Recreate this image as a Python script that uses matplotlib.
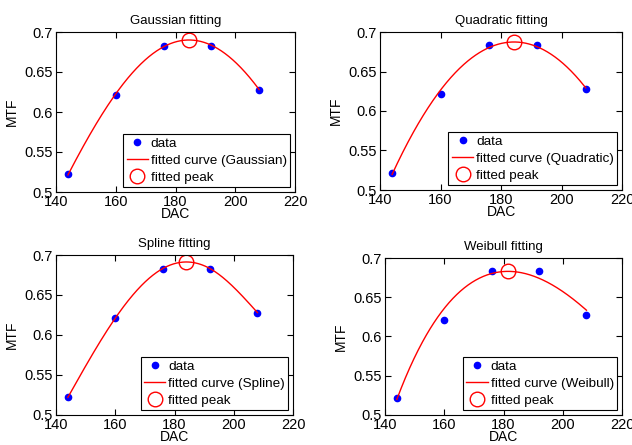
import numpy as np
import matplotlib.pyplot as plt

plt.rcParams['font.family'] = ['Liberation Sans', 'DejaVu Sans']

dac = np.array([144, 160, 176, 192, 208])
mtf = np.array([0.522, 0.621, 0.683, 0.683, 0.628])

titles = ['Gaussian fitting', 'Quadratic fitting', 'Spline fitting', 'Weibull fitting']
names = ['Gaussian', 'Quadratic', 'Spline', 'Weibull']
xticks = [140, 160, 180, 200, 220]
yticks = [0.5, 0.55, 0.6, 0.65, 0.7]
ytick_labels = ['0.5', '0.55', '0.6', '0.65', '0.7']

# weibull fit result: amplitude, location, scale, shape
weib_amp = 1.4355
weib_loc = 120.0
weib_scale = 113.55
weib_shape = 1.6


def fit_gaussian(x, y, xs):
    # log of a gaussian is a parabola; weight by y to stay close to a linear-space fit
    p = np.polyfit(x, np.log(y), 2, w=y)
    return np.exp(np.polyval(p, xs))


def fit_quadratic(x, y, xs):
    return np.polyval(np.polyfit(x, y, 2), xs)


def fit_spline(x, y, xs):
    # natural cubic spline
    n = len(x)
    h = np.diff(x).astype(float)
    A = np.zeros((n, n))
    r = np.zeros(n)
    A[0, 0] = A[-1, -1] = 1
    for i in range(1, n - 1):
        A[i, i - 1] = h[i - 1]
        A[i, i] = 2 * (h[i - 1] + h[i])
        A[i, i + 1] = h[i]
        r[i] = 6 * ((y[i + 1] - y[i]) / h[i] - (y[i] - y[i - 1]) / h[i - 1])
    m = np.linalg.solve(A, r)
    idx = np.clip(np.searchsorted(x, xs) - 1, 0, n - 2)
    x0, x1 = x[idx], x[idx + 1]
    hh = h[idx]
    return (m[idx] * (x1 - xs) ** 3 / (6 * hh) + m[idx + 1] * (xs - x0) ** 3 / (6 * hh)
            + (y[idx] / hh - m[idx] * hh / 6) * (x1 - xs)
            + (y[idx + 1] / hh - m[idx + 1] * hh / 6) * (xs - x0))


def fit_weibull(x, y, xs):
    u = (xs - weib_loc) / weib_scale
    return weib_amp * u ** (weib_shape - 1) * np.exp(-u ** weib_shape)


fits = [fit_gaussian, fit_quadratic, fit_spline, fit_weibull]

# axes boxes in figure pixels: left, bottom, right, top
boxes = [(56, 253, 295, 413), (380, 255, 622, 413), (56, 30, 293, 190), (385, 30, 622, 187)]

W, H = 632, 445
fig = plt.figure(figsize=(W / 100, H / 100), dpi=100)

xs = np.linspace(dac[0], dac[-1], 400)
for title, name, fit, (l, b, r, t) in zip(titles, names, fits, boxes):
    ax = fig.add_axes([l / W, b / H, (r - l) / W, (t - b) / H])
    ys = fit(dac.astype(float), mtf, xs)
    k = np.argmax(ys)
    ax.plot(dac, mtf, '.', color='blue', markersize=9, label='data')
    ax.plot(xs, ys, '-', color='red', lw=1, label='fitted curve (%s)' % name)
    ax.plot(xs[k], ys[k], 'o', mfc='none', mec='red', markersize=10.5, mew=1, label='fitted peak')
    ax.set_xlim(140, 220)
    ax.set_ylim(0.5, 0.7)
    ax.set_xticks(xticks)
    ax.set_yticks(yticks)
    ax.set_yticklabels(ytick_labels)
    ax.tick_params(direction='in', top=True, right=True, labelsize=10.5, length=4, pad=2)
    ax.set_xlabel('DAC', fontsize=10, labelpad=-1)
    ax.set_ylabel('MTF', fontsize=10, labelpad=4)
    ax.set_title(title, fontsize=9.5, pad=6)
    leg = ax.legend(loc='lower right', fontsize=9.7, fancybox=False, framealpha=1,
                    edgecolor='black', borderpad=0.25, labelspacing=0.33,
                    handlelength=1.6, handletextpad=0.2, borderaxespad=0.35, numpoints=1)
    leg.get_frame().set_linewidth(0.8)

fig.savefig('out.png', dpi=100)
